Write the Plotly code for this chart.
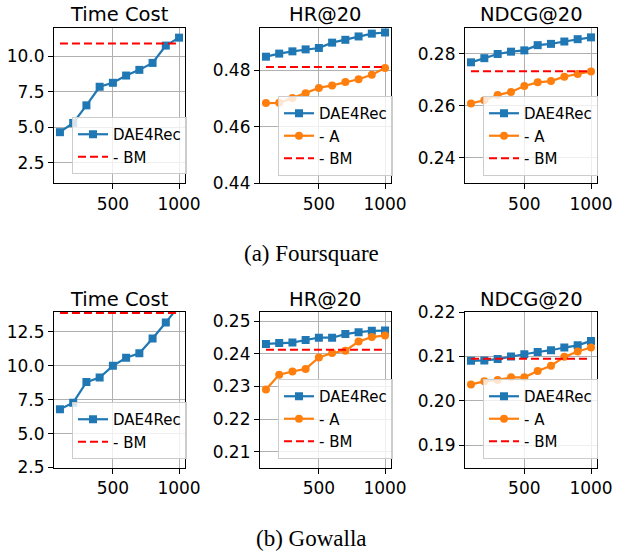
import plotly.graph_objects as go

W, H = 625, 553
OFF = 0  # body margin is removed by the post script below

steps = [100, 200, 300, 400, 500, 600, 700, 800, 900, 1000]

# Foursquare
fs_time_dae = [4.65, 5.30, 6.54, 7.85, 8.13, 8.64, 9.04, 9.53, 10.75, 11.31]
fs_time_bm = 10.89
fs_hr_dae = [0.4849, 0.4860, 0.4868, 0.4875, 0.4880, 0.4899, 0.4909, 0.4921, 0.4931, 0.4935]
fs_hr_a = [0.4684, 0.4685, 0.4702, 0.4719, 0.4738, 0.4747, 0.4759, 0.4769, 0.4785, 0.4809]
fs_hr_bm = 0.4812
fs_ndcg_dae = [0.2767, 0.2783, 0.2799, 0.2808, 0.2813, 0.2833, 0.2838, 0.2847, 0.2856, 0.2863]
fs_ndcg_a = [0.2609, 0.2621, 0.2641, 0.2653, 0.2676, 0.2690, 0.2695, 0.2712, 0.2722, 0.2732]
fs_ndcg_bm = 0.2733

# Gowalla
gw_time_dae = [6.79, 7.28, 8.80, 9.14, 10.00, 10.59, 10.93, 12.01, 13.19, 14.44]
gw_time_bm = 13.90
gw_hr_dae = [0.2431, 0.2434, 0.2435, 0.2443, 0.2450, 0.2450, 0.2461, 0.2467, 0.2471, 0.2472]
gw_hr_a = [0.2291, 0.2336, 0.2346, 0.2354, 0.2389, 0.2403, 0.2410, 0.2438, 0.2452, 0.2457]
gw_hr_bm = 0.2413
gw_ndcg_dae = [0.2090, 0.2091, 0.2094, 0.2100, 0.2105, 0.2110, 0.2114, 0.2120, 0.2125, 0.2135]
gw_ndcg_a = [0.2037, 0.2044, 0.2047, 0.2053, 0.2053, 0.2067, 0.2079, 0.2099, 0.2111, 0.2120]
gw_ndcg_bm = 0.2095

titles = ["Time Cost", "HR@20", "NDCG@20"]
captions = ["(a) Foursquare", "(b) Gowalla"]
name_dae, name_a, name_bm = "DAE4Rec", "- A", "- BM"

BLUE, ORANGE, RED = "#1f77b4", "#ff7f0e", "#ff0000"
FONT = "DejaVu Sans"


def px(x):
    return (x - OFF) / W


def py(y):
    return 1 - (y - OFF) / H


# layout geometry in screen pixels (left, right) and (top, bottom)
cols_px = [(54, 185), (260, 391), (465, 597)]
rows_px = [(28, 183), (312, 467.5)]

panels = [
    # row, col, dae, a, bm, yrange, dtick, fmt, legend box (right, bottom)
    (0, 0, fs_time_dae, None, fs_time_bm, [1.07, 11.99], 2.5, ".1f", (187, 174)),
    (0, 1, fs_hr_dae, fs_hr_a, fs_hr_bm, [0.44, 0.4951], 0.02, ".2f", (393, 176)),
    (0, 2, fs_ndcg_dae, fs_ndcg_a, fs_ndcg_bm, [0.2303, 0.2899], 0.02, ".2f", (598, 176)),
    (1, 0, gw_time_dae, None, gw_time_bm, [2.5, 13.97], 2.5, ".1f", (187, 459)),
    (1, 1, gw_hr_dae, gw_hr_a, gw_hr_bm, [0.2051, 0.2529], 0.01, ".2f", (393, 459)),
    (1, 2, gw_ndcg_dae, gw_ndcg_a, gw_ndcg_bm, [0.1850, 0.2200], 0.01, ".2f", (598, 459)),
]

fig = go.Figure()
layout = dict(
    width=W, height=H, margin=dict(l=0, r=0, t=0, b=0, autoexpand=False),
    paper_bgcolor="white", plot_bgcolor="white",
    font=dict(family=FONT, color="black", size=16),
    annotations=[],
)

axis_common = dict(
    showline=True, mirror=True, linecolor="black", linewidth=1.2,
    ticks="outside", ticklen=5, tickwidth=1.2, tickcolor="black",
    showgrid=True, gridcolor="#b0b0b0", gridwidth=1.2, zeroline=False,
    tickfont=dict(family=FONT, size=17, color="black"), automargin=False,
)

for i, (r, c, dae, a, bm, yr, dt, fmt, (lr, lb)) in enumerate(panels):
    k = i + 1
    xa = "x" if k == 1 else f"x{k}"
    ya = "y" if k == 1 else f"y{k}"
    lg = "legend" if k == 1 else f"legend{k}"
    x0, x1 = cols_px[c]
    t0, t1 = rows_px[r]
    layout["xaxis" if k == 1 else f"xaxis{k}"] = dict(
        axis_common, domain=[px(x0), px(x1)], range=[55, 1045],
        tickvals=[500, 1000], anchor=ya,
    )
    layout["yaxis" if k == 1 else f"yaxis{k}"] = dict(
        axis_common, domain=[py(t1), py(t0)], range=yr,
        dtick=dt, tick0=0, tickformat=fmt, anchor=xa,
    )
    fig.add_trace(go.Scatter(
        x=steps, y=dae, name=name_dae, mode="lines+markers",
        line=dict(color=BLUE, width=2.2), marker=dict(symbol="square", size=8, color=BLUE),
        xaxis=xa, yaxis=ya, legend=lg,
    ))
    if a is not None:
        fig.add_trace(go.Scatter(
            x=steps, y=a, name=name_a, mode="lines+markers",
            line=dict(color=ORANGE, width=2.2), marker=dict(symbol="circle", size=8, color=ORANGE),
            xaxis=xa, yaxis=ya, legend=lg,
        ))
    fig.add_trace(go.Scatter(
        x=steps, y=[bm] * len(steps), name=name_bm, mode="lines",
        line=dict(color=RED, width=2, dash="8px,4px"),
        xaxis=xa, yaxis=ya, legend=lg,
    ))
    layout[lg] = dict(
        x=px(lr), y=py(lb), xanchor="right", yanchor="bottom",
        bgcolor="rgba(255,255,255,0.8)", bordercolor="#cccccc", borderwidth=1,
        font=dict(family=FONT, size=15, color="black"),
        entrywidth=90, entrywidthmode="pixels",
    )
    layout["annotations"].append(dict(
        text=titles[c], x=px((x0 + x1) / 2), y=py(t0 - 13),
        xref="paper", yref="paper", xanchor="center", yanchor="middle",
        showarrow=False, font=dict(family=FONT, size=19.5, color="black"),
    ))

for j, (cap, cy) in enumerate(zip(captions, [253, 538])):
    layout["annotations"].append(dict(
        text=cap, x=px(311), y=py(cy), xref="paper", yref="paper",
        xanchor="center", yanchor="middle", showarrow=False,
        font=dict(family="Liberation Serif", size=23, color="black"),
    ))

fig.update_layout(**layout)
fig.write_html(
    "out.html",
    config={"displayModeBar": False},
    post_script="document.body.style.margin='0';document.body.style.overflow='hidden';",
)
